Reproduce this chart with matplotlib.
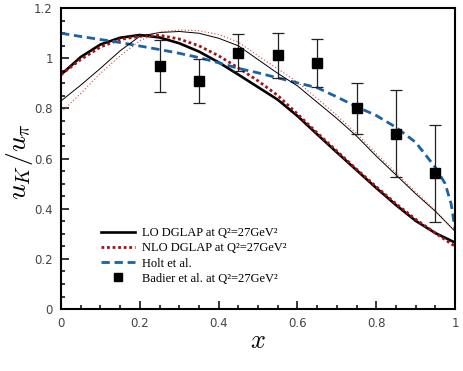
import matplotlib
matplotlib.use("Agg")
import matplotlib.pyplot as plt
from matplotlib.lines import Line2D
from matplotlib.ticker import MultipleLocator, FuncFormatter

plt.rcParams['mathtext.fontset'] = 'cm'

# curves
x_grid = [0.0, 0.05, 0.1, 0.15, 0.2, 0.25, 0.3, 0.35, 0.4, 0.45, 0.5,
          0.55, 0.6, 0.65, 0.7, 0.75, 0.8, 0.85, 0.9, 0.95, 1.0]
lo_thick = [0.935, 1.005, 1.055, 1.082, 1.093, 1.083, 1.060, 1.027, 0.984, 0.935, 0.885,
            0.835, 0.770, 0.697, 0.625, 0.554, 0.483, 0.415, 0.352, 0.303, 0.265]
nlo_thick = [0.935, 0.995, 1.045, 1.075, 1.088, 1.092, 1.077, 1.050, 1.010, 0.962, 0.910,
             0.852, 0.778, 0.703, 0.630, 0.558, 0.488, 0.420, 0.358, 0.303, 0.250]
lo_thin = [0.830, 0.893, 0.960, 1.030, 1.088, 1.103, 1.107, 1.100, 1.080, 1.050, 0.995,
           0.940, 0.890, 0.825, 0.760, 0.690, 0.610, 0.535, 0.460, 0.390, 0.310]
nlo_thin = [0.785, 0.860, 0.940, 1.010, 1.070, 1.105, 1.113, 1.110, 1.095, 1.065, 1.010,
            0.958, 0.905, 0.840, 0.772, 0.700, 0.620, 0.543, 0.467, 0.393, 0.310]

x_holt = [0.0, 0.05, 0.1, 0.15, 0.2, 0.25, 0.3, 0.35, 0.4, 0.45, 0.5, 0.55, 0.6,
          0.65, 0.7, 0.75, 0.8, 0.85, 0.9, 0.95, 0.975, 0.99, 1.0]
holt = [1.100, 1.087, 1.075, 1.063, 1.049, 1.035, 1.020, 1.003, 0.982, 0.960, 0.942, 0.922, 0.902,
        0.883, 0.846, 0.807, 0.772, 0.725, 0.665, 0.565, 0.500, 0.420, 0.320]

# Badier et al. data
x_data = [0.25, 0.35, 0.45, 0.55, 0.65, 0.75, 0.85, 0.95]
y_data = [0.97, 0.91, 1.023, 1.012, 0.981, 0.80, 0.70, 0.541]
y_err = [0.105, 0.088, 0.075, 0.09, 0.096, 0.10, 0.175, 0.195]

fig = plt.figure(figsize=(4.63, 3.71), dpi=100)
ax = fig.add_axes([0.1318, 0.167, 0.851, 0.811])

ax.plot(x_grid, lo_thick, color='black', lw=1.9)
ax.plot(x_grid, nlo_thick, color='#a81010', lw=2.0, ls=(0, (1, 1)))
ax.plot(x_holt, holt, color='#1a62a6', lw=2.0, ls=(0, (3, 1.7)))
ax.plot(x_grid, lo_thin, color='black', lw=0.7)
ax.plot(x_grid, nlo_thin, color='#d84040', lw=0.8, ls=(0, (1, 2)))
ax.errorbar(x_data, y_data, yerr=y_err, fmt='s', color='black', ms=7,
            ecolor='#222222', elinewidth=0.9, capsize=4, capthick=0.9)

ax.set_xlim(0, 1)
ax.set_ylim(0, 1.2)
ax.xaxis.set_major_locator(MultipleLocator(0.2))
ax.xaxis.set_minor_locator(MultipleLocator(0.05))
ax.yaxis.set_major_locator(MultipleLocator(0.2))
ax.yaxis.set_minor_locator(MultipleLocator(0.05))

def fmt(v, pos):
    s = '%.1f' % v
    return s[:-2] if s.endswith('.0') else s

ax.xaxis.set_major_formatter(FuncFormatter(fmt))
ax.yaxis.set_major_formatter(FuncFormatter(fmt))
ax.tick_params(which='both', direction='in', top=False, right=False,
               labelsize=8.5, labelcolor='#444444', width=1.1)
ax.tick_params(which='major', length=6, pad=6)
ax.tick_params(which='minor', length=3)
for s in ax.spines.values():
    s.set_linewidth(1.5)

ax.set_xlabel('$x$', fontsize=19, labelpad=-2)
ax.set_ylabel('$u_K/u_\\pi$', fontsize=20)
ax.yaxis.set_label_coords(-0.066, 0.49)

handles = [
    Line2D([], [], color='black', lw=1.9),
    Line2D([], [], color='#a81010', lw=2.0, ls=(0, (1, 1))),
    Line2D([], [], color='#1a62a6', lw=2.0, ls=(0, (3, 1.7))),
    Line2D([], [], color='black', ls='none', marker='s', ms=6),
]
labels = ['LO DGLAP at Q²=27GeV²', 'NLO DGLAP at Q²=27GeV²', 'Holt et al.',
          'Badier et al. at Q²=27GeV²']
ax.legend(handles, labels, loc='lower left', bbox_to_anchor=(0.085, 0.06), frameon=False,
          prop={'family': 'Liberation Serif', 'size': 9}, handlelength=2.7,
          handletextpad=0.6, labelspacing=0.25, borderpad=0)

fig.savefig('out.png', dpi=100)
